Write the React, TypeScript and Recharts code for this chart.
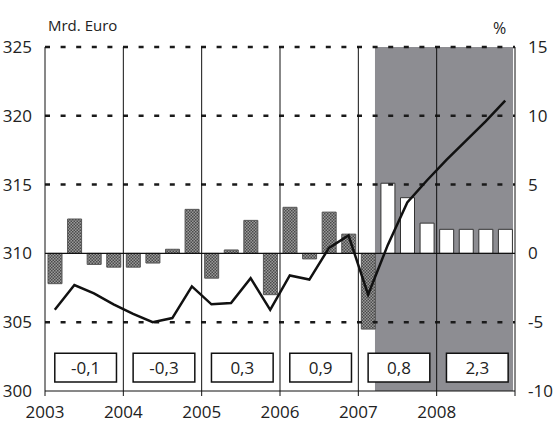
import React from 'react';
import {
  ComposedChart,
  Bar,
  Line,
  Cell,
  XAxis,
  YAxis,
  ReferenceArea,
  ReferenceLine,
} from 'recharts';

// quarterly data 2003 Q1 .. 2008 Q4
const quarters = [
  '2003Q1', '2003Q2', '2003Q3', '2003Q4',
  '2004Q1', '2004Q2', '2004Q3', '2004Q4',
  '2005Q1', '2005Q2', '2005Q3', '2005Q4',
  '2006Q1', '2006Q2', '2006Q3', '2006Q4',
  '2007Q1', '2007Q2', '2007Q3', '2007Q4',
  '2008Q1', '2008Q2', '2008Q3', '2008Q4',
];

// change vs. previous quarter, % (right axis)
const growth = [
  -2.2, 2.5, -0.8, -1.0,
  -1.0, -0.7, 0.3, 3.2,
  -1.8, 0.25, 2.4, -3.0,
  3.35, -0.4, 3.0, 1.4,
  -5.5, 5.1, 4.05, 2.2,
  1.75, 1.75, 1.75, 1.75,
];

// level, Mrd. Euro (left axis)
const level = [
  305.9, 307.7, 307.1, 306.3,
  305.6, 305.0, 305.3, 307.6,
  306.3, 306.4, 308.2, 305.9,
  308.4, 308.1, 310.4, 311.3,
  307.0, 310.6, 313.7, 315.3,
  316.8, 318.2, 319.6, 321.1,
];

const years = ['2003', '2004', '2005', '2006', '2007', '2008'];
const annual = ['-0,1', '-0,3', '0,3', '0,9', '0,8', '2,3'];

const leftTicks = [300, 305, 310, 315, 320, 325];
const rightTicks = [-10, -5, 0, 5, 10, 15];
const dashedAt = [305, 315, 320, 325];

const FIRST_FORECAST = 17;
const FONT = '"Open Sans", sans-serif';

const data = quarters.map((q, i) => ({
  quarter: q,
  q: i + 0.5,
  growth: growth[i],
  level: level[i],
}));

const xTicks = years.map((_, i) => i * 4).concat(24);

export default function App() {
  return (
    <div style={{ position: 'absolute', left: 0, top: 0, width: 555, height: 423, background: '#fff', fontFamily: FONT }}>
      <svg width={0} height={0} style={{ position: 'absolute' }}>
        <defs>
          <pattern id="hatch" width={3} height={3} patternUnits="userSpaceOnUse">
            <rect width={3} height={3} fill="#9a9a9a" />
            <rect width={1.5} height={1.5} fill="#4a4a4a" />
            <rect x={1.5} y={1.5} width={1.5} height={1.5} fill="#4a4a4a" />
          </pattern>
        </defs>
      </svg>
      <div style={{ position: 'absolute', left: 48, top: 15, fontSize: 15, color: '#222' }}>Mrd. Euro</div>
      <div style={{ position: 'absolute', left: 493, top: 17, fontSize: 16, color: '#222' }}>%</div>
      <ComposedChart
        width={555}
        height={423}
        data={data}
        margin={{ top: 47, right: 0, bottom: 2, left: 0 }}
      >
        <XAxis
          type="number"
          dataKey="q"
          domain={[0, 24]}
          ticks={xTicks}
          tickFormatter={(v) => years[v / 4] ?? ''}
          height={30}
          tickSize={5}
          tickMargin={10}
          stroke="#111"
          tick={{ fill: '#222', fontSize: 17, fontFamily: FONT }}
        />
        <YAxis
          yAxisId="left"
          domain={[300, 325]}
          ticks={leftTicks}
          width={45}
          tickSize={0}
          tickMargin={13}
          stroke="#111"
          tick={{ fill: '#222', fontSize: 17, fontFamily: FONT }}
        />
        <YAxis
          yAxisId="right"
          orientation="right"
          domain={[-10, 15]}
          ticks={rightTicks}
          width={40}
          tickSize={0}
          tickMargin={13}
          stroke="#111"
          tick={{ fill: '#222', fontSize: 17, fontFamily: FONT }}
        />
        <ReferenceArea
          yAxisId="left"
          x1={16.85}
          x2={23.9}
          y1={300}
          y2={325}
          fill="#8d8d92"
          fillOpacity={1}
          stroke="none"
        />
        {dashedAt.map((v) => (
          <ReferenceLine
            key={v}
            yAxisId="left"
            y={v}
            stroke="#1a1a1a"
            strokeWidth={2.5}
            strokeDasharray="5 10.6"
          />
        ))}
        {years.slice(1).map((y, i) => (
          <ReferenceLine key={y} yAxisId="left" x={(i + 1) * 4} stroke="#111" strokeWidth={1} />
        ))}
        <ReferenceLine yAxisId="left" y={310} stroke="#111" strokeWidth={1.3} />
        <Bar yAxisId="right" dataKey="growth" barSize={14} isAnimationActive={false}>
          {data.map((d, i) => (
            <Cell
              key={d.quarter}
              fill={i < FIRST_FORECAST ? 'url(#hatch)' : '#fff'}
              stroke={i < FIRST_FORECAST ? '#555' : '#333'}
              strokeWidth={1}
            />
          ))}
        </Bar>
        <Line
          yAxisId="left"
          dataKey="level"
          type="linear"
          stroke="#111"
          strokeWidth={2.5}
          dot={false}
          isAnimationActive={false}
        />
        {annual.map((a, i) => (
          <ReferenceArea
            key={a + i}
            yAxisId="left"
            x1={i * 4 + 0.5}
            x2={i * 4 + 3.65}
            y1={300.65}
            y2={302.75}
            fill="#fff"
            fillOpacity={1}
            stroke="#111"
            strokeWidth={1.5}
            label={{ value: a, position: 'center', fontSize: 17, fill: '#222', fontFamily: FONT }}
          />
        ))}
      </ComposedChart>
    </div>
  );
}
